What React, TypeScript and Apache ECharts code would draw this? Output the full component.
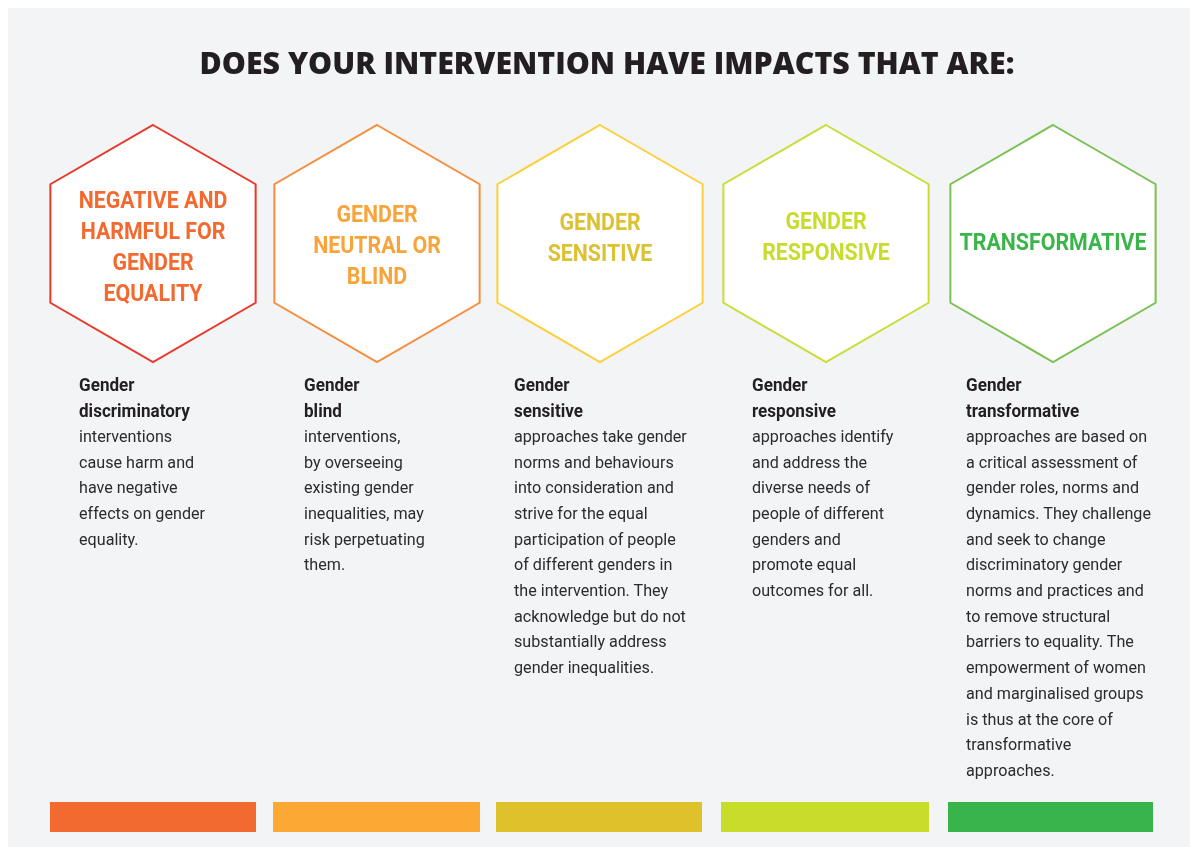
import React, { useEffect, useRef } from "react";
import * as echarts from "echarts";

const heading = "DOES YOUR INTERVENTION HAVE IMPACTS THAT ARE:";

const hexTitles: string[][] = [
  ["NEGATIVE AND", "HARMFUL FOR", "GENDER", "EQUALITY"],
  ["GENDER", "NEUTRAL OR", "BLIND"],
  ["GENDER", "SENSITIVE"],
  ["GENDER", "RESPONSIVE"],
  ["TRANSFORMATIVE"],
];

const descHeads: string[][] = [
  ["Gender", "discriminatory"],
  ["Gender", "blind"],
  ["Gender", "sensitive"],
  ["Gender", "responsive"],
  ["Gender", "transformative"],
];

const descBodies: string[][] = [
  ["interventions", "cause harm and", "have negative", "effects on gender", "equality."],
  ["interventions,", "by overseeing", "existing gender", "inequalities, may", "risk perpetuating", "them."],
  [
    "approaches take gender",
    "norms and behaviours",
    "into consideration and",
    "strive for the equal",
    "participation of people",
    "of different genders in",
    "the intervention. They",
    "acknowledge but do not",
    "substantially address",
    "gender inequalities.",
  ],
  [
    "approaches identify",
    "and address the",
    "diverse needs of",
    "people of different",
    "genders and",
    "promote equal",
    "outcomes for all.",
  ],
  [
    "approaches are based on",
    "a critical assessment of",
    "gender roles, norms and",
    "dynamics. They challenge",
    "and seek to change",
    "discriminatory gender",
    "norms and practices and",
    "to remove structural",
    "barriers to equality. The",
    "empowerment of women",
    "and marginalised groups",
    "is thus at the core of",
    "transformative",
    "approaches.",
  ],
];

const strokeColors = ["#e8392b", "#f78d3d", "#fcd03d", "#c9dc37", "#7bc152"];
const titleColors = ["#f26a30", "#f9a43a", "#dcc232", "#c8dc2e", "#3ab54a"];
const barColors = ["#f26a30", "#fca834", "#dfc22b", "#c8dc2a", "#38b44a"];

// layout (chart coordinates)
const hexCenters = [145, 369, 592, 818, 1045];
const hexCy = 235.5;
const hexR = 118.5;
const titleCy = [238.5, 237, 229.5, 228.5, 234];
const textLeft = [71, 296, 506, 744, 958];
const textTop = 364;
const lineH = 25.7;
const barX = [42, 265, 488, 713, 940];
const barW = [206, 207, 206, 208, 205];
const barY = 794;
const barH = 30;

function hexPoints(cx: number, cy: number, r: number): number[][] {
  const pts: number[][] = [];
  for (let i = 0; i < 6; i++) {
    const a = (Math.PI / 180) * (-90 + 60 * i);
    pts.push([cx + r * Math.cos(a), cy + r * Math.sin(a)]);
  }
  return pts;
}

export default function App() {
  const ref = useRef<HTMLDivElement>(null);
  useEffect(() => {
    if (!ref.current) return;
    const chart = echarts.init(ref.current, null, { renderer: "svg" });
    const elements: any[] = [];
    elements.push({
      type: "rect",
      shape: { x: 0, y: 0, width: 1182, height: 839 },
      style: { fill: "#f3f4f6" },
      silent: true,
    });
    elements.push({
      type: "text",
      x: 599,
      y: 54,
      style: {
        text: heading,
        fill: "#231f20",
        font: "800 30.3px 'Open Sans'",
        align: "center",
        verticalAlign: "middle",
      },
    });
    hexTitles.forEach((lines, i) => {
      elements.push({
        type: "polygon",
        shape: { points: hexPoints(hexCenters[i], hexCy, hexR) },
        style: { fill: "#ffffff", stroke: strokeColors[i], lineWidth: 2 },
      });
      elements.push({
        type: "text",
        x: hexCenters[i],
        y: titleCy[i],
        scaleX: 0.89,
        style: {
          text: lines.join("\n"),
          fill: titleColors[i],
          font: "bold 24px Roboto",
          lineHeight: 31,
          align: "center",
          verticalAlign: "middle",
        },
      });
      const rich = [
        ...descHeads[i].map((t) => "{b|" + t + "}"),
        ...descBodies[i].map((t) => "{n|" + t + "}"),
      ].join("\n");
      elements.push({
        type: "text",
        x: textLeft[i],
        y: textTop,
        scaleX: 0.95,
        style: {
          text: rich,
          align: "left",
          verticalAlign: "top",
          rich: {
            b: { font: "bold 18px Roboto", fill: "#231f20", lineHeight: lineH },
            n: { font: "17px Roboto", fill: "#2b2b2b", lineHeight: lineH },
          },
        },
      });
      elements.push({
        type: "rect",
        shape: { x: barX[i], y: barY, width: barW[i], height: barH },
        style: { fill: barColors[i] },
      });
    });
    chart.setOption({ animation: false, graphic: { elements } });
    return () => chart.dispose();
  }, []);
  return (
    <div
      ref={ref}
      style={{ position: "fixed", left: 8, top: 8, width: 1182, height: 839 }}
    />
  );
}
